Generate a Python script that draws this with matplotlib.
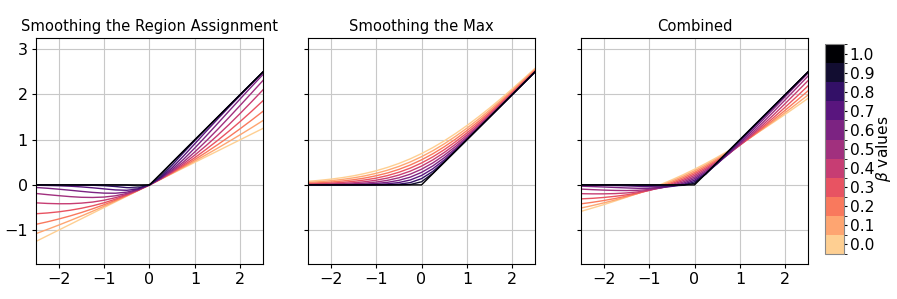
import numpy as np
import matplotlib
matplotlib.use("Agg")
import matplotlib.pyplot as plt
from matplotlib.colors import ListedColormap, BoundaryNorm
from matplotlib.cm import ScalarMappable

# beta values and sample positions
betas = [0.0, 0.1, 0.2, 0.3, 0.4, 0.5, 0.6, 0.7, 0.8, 0.9, 1.0]
x_vals = [-2.5, -2.25, -2.0, -1.75, -1.5, -1.25, -1.0, -0.75, -0.5, -0.25, 0.0,
          0.25, 0.5, 0.75, 1.0, 1.25, 1.5, 1.75, 2.0, 2.25, 2.5]

# Smoothing the region assignment (one row per beta)
region_curves = [
    [-1.25, -1.125, -1.0, -0.875, -0.75, -0.625, -0.5, -0.375, -0.25, -0.125, 0, 0.125, 0.25, 0.375, 0.5, 0.625, 0.75, 0.875, 1.0, 1.125, 1.25],
    [-1.078, -0.985, -0.889, -0.790, -0.688, -0.582, -0.472, -0.359, -0.243, -0.123, 0, 0.127, 0.257, 0.391, 0.528, 0.668, 0.812, 0.960, 1.111, 1.265, 1.423],
    [-0.872, -0.817, -0.755, -0.687, -0.611, -0.528, -0.438, -0.340, -0.234, -0.121, 0, 0.129, 0.266, 0.410, 0.562, 0.722, 0.889, 1.063, 1.245, 1.433, 1.628],
    [-0.638, -0.621, -0.596, -0.561, -0.517, -0.462, -0.396, -0.316, -0.223, -0.118, 0, 0.132, 0.277, 0.434, 0.604, 0.789, 0.983, 1.189, 1.404, 1.629, 1.862],
    [-0.397, -0.410, -0.417, -0.416, -0.403, -0.379, -0.339, -0.283, -0.209, -0.115, 0, 0.135, 0.291, 0.467, 0.661, 0.871, 1.097, 1.334, 1.583, 1.840, 2.103],
    [-0.190, -0.215, -0.238, -0.259, -0.274, -0.278, -0.269, -0.241, -0.189, -0.109, 0, 0.141, 0.311, 0.509, 0.731, 0.972, 1.226, 1.491, 1.762, 2.035, 2.310],
    [-0.057, -0.074, -0.095, -0.118, -0.143, -0.166, -0.182, -0.184, -0.160, -0.102, 0, 0.148, 0.340, 0.566, 0.818, 1.084, 1.357, 1.632, 1.905, 2.176, 2.443],
    [-0.007, -0.012, -0.019, -0.029, -0.044, -0.064, -0.088, -0.111, -0.119, -0.090, 0, 0.160, 0.381, 0.639, 0.912, 1.186, 1.456, 1.721, 1.981, 2.238, 2.493],
    [0.0, 0.0, -0.001, -0.002, -0.004, -0.008, -0.018, -0.036, -0.060, -0.067, 0, 0.183, 0.440, 0.714, 0.982, 1.242, 1.496, 1.748, 1.999, 2.250, 2.500],
    [0, 0, 0, 0, 0, 0, 0, -0.001, -0.005, -0.024, 0, 0.226, 0.495, 0.749, 1.000, 1.25, 1.5, 1.75, 2.0, 2.25, 2.5],
    [0, 0, 0, 0, 0, 0, 0, 0, 0, 0, 0, 0.25, 0.5, 0.75, 1.0, 1.25, 1.5, 1.75, 2.0, 2.25, 2.5],
]

# Smoothing the max
max_curves = [
    [0.079, 0.100, 0.127, 0.160, 0.201, 0.252, 0.313, 0.387, 0.474, 0.576, 0.693, 0.826, 0.974, 1.137, 1.313, 1.502, 1.701, 1.910, 2.127, 2.350, 2.579],
    [0.054, 0.071, 0.093, 0.120, 0.156, 0.200, 0.256, 0.325, 0.408, 0.507, 0.624, 0.757, 0.908, 1.075, 1.256, 1.450, 1.656, 1.870, 2.093, 2.321, 2.554],
    [0.034, 0.047, 0.063, 0.085, 0.114, 0.152, 0.202, 0.264, 0.343, 0.439, 0.555, 0.689, 0.843, 1.014, 1.202, 1.402, 1.614, 1.835, 2.063, 2.297, 2.534],
    [0.019, 0.028, 0.039, 0.055, 0.078, 0.109, 0.150, 0.206, 0.279, 0.371, 0.485, 0.621, 0.779, 0.956, 1.150, 1.359, 1.578, 1.805, 2.039, 2.278, 2.519],
    [0.009, 0.014, 0.021, 0.032, 0.047, 0.070, 0.104, 0.151, 0.217, 0.304, 0.416, 0.554, 0.717, 0.901, 1.104, 1.320, 1.547, 1.782, 2.021, 2.264, 2.509],
    [0.003, 0.006, 0.009, 0.015, 0.024, 0.039, 0.063, 0.101, 0.157, 0.237, 0.347, 0.487, 0.657, 0.851, 1.063, 1.289, 1.524, 1.765, 2.009, 2.256, 2.503],
    [0.001, 0.001, 0.003, 0.005, 0.009, 0.017, 0.032, 0.057, 0.101, 0.171, 0.277, 0.421, 0.601, 0.807, 1.032, 1.267, 1.509, 1.755, 2.003, 2.251, 2.501],
    [0.0, 0.0, 0.0, 0.001, 0.002, 0.005, 0.011, 0.024, 0.052, 0.108, 0.208, 0.358, 0.552, 0.774, 1.011, 1.255, 1.502, 1.751, 2.000, 2.250, 2.500],
    [0, 0, 0, 0, 0, 0, 0.001, 0.005, 0.016, 0.050, 0.139, 0.300, 0.516, 0.755, 1.001, 1.250, 1.500, 1.75, 2.0, 2.25, 2.5],
    [0, 0, 0, 0, 0, 0, 0, 0, 0.001, 0.008, 0.069, 0.258, 0.501, 0.750, 1.0, 1.25, 1.5, 1.75, 2.0, 2.25, 2.5],
    [0, 0, 0, 0, 0, 0, 0, 0, 0, 0, 0, 0.25, 0.5, 0.75, 1.0, 1.25, 1.5, 1.75, 2.0, 2.25, 2.5],
]

# Combined
combined_curves = [
    [-0.586, -0.512, -0.437, -0.357, -0.274, -0.187, -0.093, 0.006, 0.112, 0.225, 0.347, 0.475, 0.612, 0.756, 0.907, 1.063, 1.226, 1.393, 1.563, 1.738, 1.914],
    [-0.512, -0.457, -0.398, -0.335, -0.266, -0.191, -0.108, -0.017, 0.083, 0.192, 0.312, 0.442, 0.583, 0.733, 0.892, 1.059, 1.234, 1.415, 1.602, 1.793, 1.988],
    [-0.419, -0.385, -0.346, -0.301, -0.248, -0.188, -0.118, -0.038, 0.054, 0.159, 0.277, 0.409, 0.554, 0.712, 0.882, 1.062, 1.252, 1.449, 1.654, 1.865, 2.081],
    [-0.309, -0.297, -0.278, -0.253, -0.220, -0.176, -0.123, -0.055, 0.028, 0.126, 0.243, 0.376, 0.528, 0.695, 0.877, 1.074, 1.280, 1.497, 1.722, 1.953, 2.191],
    [-0.194, -0.198, -0.198, -0.192, -0.178, -0.154, -0.118, -0.066, 0.004, 0.095, 0.208, 0.345, 0.504, 0.684, 0.882, 1.096, 1.322, 1.558, 1.802, 2.052, 2.306],
    [-0.093, -0.105, -0.115, -0.122, -0.125, -0.119, -0.103, -0.070, -0.016, 0.064, 0.173, 0.314, 0.484, 0.680, 0.897, 1.131, 1.375, 1.628, 1.885, 2.145, 2.407],
    [-0.028, -0.037, -0.046, -0.057, -0.067, -0.075, -0.075, -0.063, -0.030, 0.035, 0.139, 0.285, 0.470, 0.687, 0.925, 1.176, 1.433, 1.693, 1.954, 2.214, 2.472],
    [-0.004, -0.006, -0.009, -0.014, -0.021, -0.030, -0.039, -0.044, -0.033, 0.009, 0.104, 0.259, 0.467, 0.706, 0.961, 1.220, 1.479, 1.736, 1.991, 2.244, 2.496],
    [0.0, 0.0, 0.0, -0.001, -0.002, -0.004, -0.008, -0.015, -0.022, -0.008, 0.069, 0.242, 0.478, 0.735, 0.992, 1.246, 1.498, 1.749, 2.000, 2.250, 2.500],
    [0, 0, 0, 0, 0, 0, 0, 0, -0.002, -0.008, 0.035, 0.242, 0.498, 0.750, 1.000, 1.25, 1.5, 1.75, 2.0, 2.25, 2.5],
    [0, 0, 0, 0, 0, 0, 0, 0, 0, 0, 0, 0.25, 0.5, 0.75, 1.0, 1.25, 1.5, 1.75, 2.0, 2.25, 2.5],
]

titles = ["Smoothing the Region Assignment", "Smoothing the Max", "Combined"]
panels = [region_curves, max_curves, combined_curves]

# discrete magma colours, light for beta=0, black for beta=1
colors = plt.cm.magma(np.linspace(0.9, 0.0, len(betas)))
cmap = ListedColormap(colors)
norm = BoundaryNorm(np.linspace(-0.05, 1.05, len(betas) + 1), cmap.N)

fig = plt.figure(figsize=(8.97, 2.99), dpi=100)
lefts = [0.0401, 0.3434, 0.6477]
axes = []
for i, left in enumerate(lefts):
    ax = fig.add_axes([left, 0.117, 0.2531, 0.756])
    for b, ys in zip(betas, panels[i]):
        ax.plot(x_vals, ys, color=colors[betas.index(b)], lw=1)
    ax.set_xlim(-2.5, 2.5)
    ax.set_ylim(-1.75, 3.25)
    ax.set_xticks([-2, -1, 0, 1, 2])
    ax.set_yticks([-1, 0, 1, 2, 3])
    ax.grid(True, color="#c8c8c8", lw=0.8)
    ax.set_axisbelow(True)
    ax.tick_params(labelsize=11.5, length=3, pad=3)
    ax.set_title(titles[i], fontsize=10.6, pad=5)
    if i > 0:
        ax.set_yticklabels([])
    axes.append(ax)

cax = fig.add_axes([0.9197, 0.1505, 0.0212, 0.702])
sm = ScalarMappable(norm=norm, cmap=cmap)
cb = fig.colorbar(sm, cax=cax, ticks=betas)
cb.ax.set_yticklabels([f"{b:.1f}" for b in betas])
cb.ax.tick_params(labelsize=11.2, length=2.5, pad=1.5)
cb.set_label(r"$\beta$ values", fontsize=11.2, labelpad=0)
cb.outline.set_edgecolor("#888888")

plt.savefig("out.png", dpi=100)
